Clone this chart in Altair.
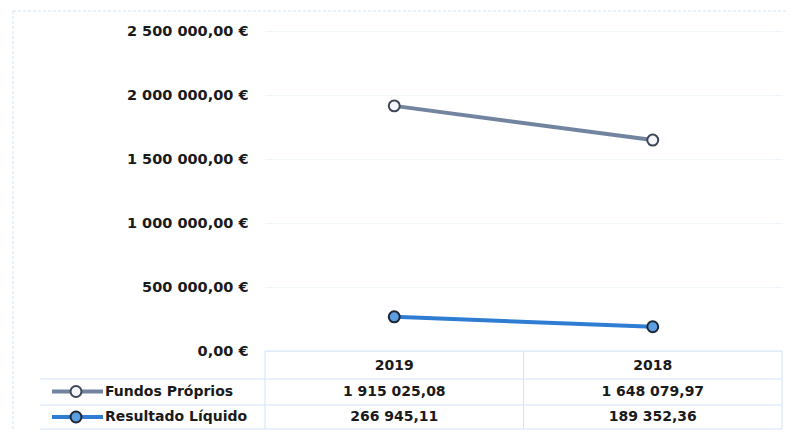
import altair as alt
import pandas as pd

# ---- data ----
years = ["2019", "2018"]
series = ["Fundos Próprios", "Resultado Líquido"]
fundos = [1915025.08, 1648079.97]
resultado = [266945.11, 189352.36]
y_ticks = [0, 500000, 1000000, 1500000, 2000000, 2500000]
row_names = ["header", "Fundos Próprios", "Resultado Líquido"]

# ---- styles ----
line_colors = ["#72849f", "#2e7dd3"]
marker_fill = ["#f4f6fa", "#5d9ee0"]
marker_stroke = ["#3d4656", "#1d2633"]
grid_col = "#f1f6fc"
table_col = "#d3e4f5"
FONT = "DejaVu Sans"


def fmt(v):
    return f"{v:,.2f}".replace(",", " ").replace(".", ",")


recs = []
for s, vals in zip(series, [fundos, resultado]):
    for yr, v in zip(years, vals):
        recs.append({"year": yr, "series": s, "value": v, "label": fmt(v)})
df = pd.DataFrame(recs)
hdr = pd.DataFrame({"year": years, "row": ["header"] * len(years)})
leg = pd.DataFrame({"series": series})
one = pd.DataFrame({"a": [0]})

W, H = 517, 320
TB = 78  # table depth below the plot

xscale = alt.Scale(type="point", domain=years, padding=0.5)
rowscale = alt.Scale(type="point", domain=row_names, range=[H + 15, H + 66], padding=0)
cscale = alt.Scale(domain=series, range=line_colors)
fscale = alt.Scale(domain=series, range=marker_fill)
sscale = alt.Scale(domain=series, range=marker_stroke)

X = alt.X("year:N", scale=xscale, axis=None)
label_expr = ("replace(replace(format(datum.value, ',.2f'), regexp(',', 'g'), ' '), '.', ',') + ' €'")

lines = alt.Chart(df).mark_line(strokeWidth=4).encode(
    x=X,
    y=alt.Y("value:Q", scale=alt.Scale(domain=[0, 2500000], nice=False, zero=True),
            axis=alt.Axis(values=y_ticks, labelExpr=label_expr, title=None, domain=False,
                          ticks=False, labelPadding=17, labelFont=FONT,
                          labelFontWeight="bold", labelFontSize=14.5, labelColor="#1a1a1a",
                          gridColor=grid_col, gridWidth=1)),
    color=alt.Color("series:N", scale=cscale, legend=None),
)

points = alt.Chart(df).mark_point(shape="circle", size=120, filled=True, strokeWidth=2, opacity=1).encode(
    x=X,
    y=alt.Y("value:Q", scale=alt.Scale(domain=[0, 2500000], nice=False), axis=None),
    fill=alt.Fill("series:N", scale=fscale, legend=None),
    stroke=alt.Stroke("series:N", scale=sscale, legend=None),
)

tfont = dict(font=FONT, fontWeight="bold", fontSize=14, color="#1a1a1a")

header = alt.Chart(hdr).mark_text(**tfont).encode(
    x=X, y=alt.Y("row:N", scale=rowscale, axis=None), text="year:N"
)
values = alt.Chart(df).mark_text(**tfont).encode(
    x=X, y=alt.Y("series:N", scale=rowscale, axis=None), text="label:N"
)

leg_rule = alt.Chart(leg).mark_rule(strokeWidth=4).encode(
    x=alt.value(-213), x2=alt.value(-162),
    y=alt.Y("series:N", scale=rowscale, axis=None),
    color=alt.Color("series:N", scale=cscale, legend=None),
)
leg_pt = alt.Chart(leg).mark_point(shape="circle", size=120, filled=True, strokeWidth=2, opacity=1).encode(
    x=alt.value(-189),
    y=alt.Y("series:N", scale=rowscale, axis=None),
    fill=alt.Fill("series:N", scale=fscale, legend=None),
    stroke=alt.Stroke("series:N", scale=sscale, legend=None),
)
leg_txt = alt.Chart(leg).mark_text(align="left", **tfont).encode(
    x=alt.value(-160),
    y=alt.Y("series:N", scale=rowscale, axis=None),
    text="series:N",
)

rules = []
for xv in [0, W / 2, W]:
    rules.append(alt.Chart(one).mark_rule(color=table_col, strokeWidth=1).encode(
        x=alt.value(xv), y=alt.value(H), y2=alt.value(H + TB)))
rules.append(alt.Chart(one).mark_rule(color=table_col, strokeWidth=1).encode(
    x=alt.value(0), x2=alt.value(W), y=alt.value(H)))
for yv in [H + 28, H + 54, H + TB]:
    rules.append(alt.Chart(one).mark_rule(color=table_col, strokeWidth=1).encode(
        x=alt.value(-225), x2=alt.value(W), y=alt.value(yv)))
# faint outer chart border (dashed)
rules.append(alt.Chart(one).mark_rule(color="#cfe3f6", strokeWidth=1, strokeDash=[3, 2]).encode(
    x=alt.value(-252), x2=alt.value(W + 4), y=alt.value(-20)))
rules.append(alt.Chart(one).mark_rule(color="#cfe3f6", strokeWidth=1, strokeDash=[3, 2]).encode(
    x=alt.value(-252), y=alt.value(-20), y2=alt.value(H + TB)))

chart = alt.layer(
    *rules, lines, points, header, values, leg_rule, leg_pt, leg_txt
).resolve_scale(y="independent").properties(
    width=W, height=H,
    autosize=alt.AutoSizeParams(type="none"),
    padding={"left": 257, "top": 23, "right": 6, "bottom": 79},
    background="white",
).configure_view(stroke=None)

chart.save("out.html", embed_options={"renderer": "svg", "actions": False})
